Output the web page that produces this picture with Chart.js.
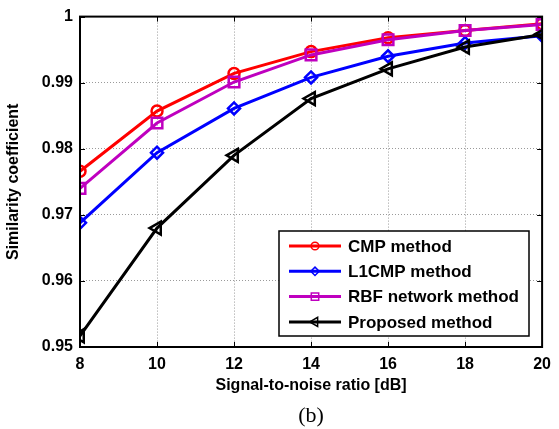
<!DOCTYPE html>
<html>
<head>
<meta charset="utf-8">
<script src="https://cdn.jsdelivr.net/npm/chart.js@4/dist/chart.umd.min.js"></script>
<style>
  html, body { margin: 0; padding: 0; background: #fff; }
  #wrap { width: 559px; height: 429px; position: relative; }
</style>
</head>
<body>
<div id="wrap"><canvas id="chart"></canvas></div>
<script>
const snr = [8, 10, 12, 14, 16, 18, 20];
const cmpValues = [0.9766, 0.9857, 0.9914, 0.9947, 0.9968, 0.9979, 0.9989];
const l1cmpValues = [0.9688, 0.9794, 0.9861, 0.9908, 0.9940, 0.9960, 0.9971];
const rbfValues = [0.9740, 0.9839, 0.9901, 0.9942, 0.9965, 0.9979, 0.9988];
const proposedValues = [0.9517, 0.9680, 0.9790, 0.9876, 0.9921, 0.9954, 0.9973];

const seriesNames = ['CMP method', 'L1CMP method', 'RBF network method', 'Proposed method'];
const xTicks = [8, 10, 12, 14, 16, 18, 20];
const yTicks = [0.95, 0.96, 0.97, 0.98, 0.99, 1];

const AREA = { left: 80, right: 545, top: 14, bottom: 347 };
const W = 559, H = 429;
const CAPTION_H = 26.4; // 22px serif * 1.2

function makeSeries(label, values, color, pointStyle, radius, rotation, order) {
  return {
    label,
    data: values.map((v, i) => ({ x: snr[i], y: v })),
    borderColor: color,
    backgroundColor: 'rgba(0,0,0,0)',
    borderWidth: 3,
    pointStyle,
    pointRadius: radius,
    pointRotation: rotation,
    pointBorderWidth: 2.5,
    pointBorderColor: color,
    pointBackgroundColor: 'rgba(0,0,0,0)',
    tension: 0,
    order
  };
}

const datasets = [
  makeSeries(seriesNames[0], cmpValues, '#ff0000', 'circle', 5.5, 0, 3),
  makeSeries(seriesNames[1], l1cmpValues, '#0000ff', 'rectRot', 6, 0, 2),
  makeSeries(seriesNames[2], rbfValues, '#bf00bf', 'rect', 7.5, 0, 1),
  makeSeries(seriesNames[3], proposedValues, '#000000', 'triangle', 7.5, -90, 0)
];

// box, inward ticks and legend, MATLAB style
const matlabFrame = {
  id: 'matlabFrame',
  afterDatasetsDraw(chart) {
    const ctx = chart.ctx;
    const a = chart.chartArea;
    const xs = chart.scales.x, ys = chart.scales.y;
    ctx.save();
    ctx.strokeStyle = '#000';
    ctx.lineWidth = 1;
    ctx.beginPath();
    xTicks.forEach((t) => {
      const px = Math.round(xs.getPixelForValue(t)) + 0.5;
      ctx.moveTo(px, a.bottom); ctx.lineTo(px, a.bottom - 5);
      ctx.moveTo(px, a.top); ctx.lineTo(px, a.top + 5);
    });
    yTicks.forEach((t) => {
      const py = Math.round(ys.getPixelForValue(t)) + 0.5;
      ctx.moveTo(a.left, py); ctx.lineTo(a.left + 5, py);
      ctx.moveTo(a.right, py); ctx.lineTo(a.right - 5, py);
    });
    ctx.stroke();
    ctx.lineWidth = 2;
    ctx.strokeRect(a.left, a.top, a.right - a.left, a.bottom - a.top);
    ctx.restore();
  },
  afterDraw(chart) {
    const ctx = chart.ctx;
    const box = { x: 279, y: 231, w: 250, h: 105 };
    ctx.save();
    ctx.fillStyle = '#fff';
    ctx.fillRect(box.x, box.y, box.w, box.h);
    ctx.strokeStyle = '#000';
    ctx.lineWidth = 1.5;
    ctx.strokeRect(box.x, box.y, box.w, box.h);
    ctx.textBaseline = 'middle';
    chart.data.datasets.forEach((ds, i) => {
      const y = box.y + 15 + i * 25.3;
      ctx.strokeStyle = ds.borderColor;
      ctx.lineWidth = 3;
      ctx.beginPath();
      ctx.moveTo(box.x + 10, y);
      ctx.lineTo(box.x + 62, y);
      ctx.stroke();
      ctx.lineWidth = 1.5;
      ctx.fillStyle = 'rgba(0,0,0,0)';
      Chart.helpers.drawPoint(ctx, {
        pointStyle: ds.pointStyle,
        rotation: ds.pointRotation,
        radius: ds.pointRadius * 0.7,
        borderWidth: 1.5
      }, box.x + 36, y);
      ctx.fillStyle = '#000';
      ctx.font = 'bold 17px "Liberation Sans", Arial, sans-serif';
      ctx.fillText(ds.label, box.x + 69, y + 1);
    });
    ctx.restore();
  }
};

const tickFont = { family: '"Liberation Sans", Arial, sans-serif', size: 16, weight: 'bold' };
const titleFont = { family: '"Liberation Sans", Arial, sans-serif', size: 16, weight: 'bold' };

new Chart(document.getElementById('chart'), {
  type: 'line',
  data: { datasets },
  options: {
    responsive: true,
    maintainAspectRatio: false,
    animation: false,
    layout: { padding: { left: 0, right: W - AREA.right, top: AREA.top, bottom: 0 } },
    plugins: {
      legend: { display: false },
      tooltip: { enabled: false },
      title: {
        display: true,
        position: 'bottom',
        fullSize: false,
        text: '(b)',
        color: '#000',
        font: { family: '"Liberation Serif", "Times New Roman", serif', size: 22, weight: 'normal' },
        padding: { top: 0, bottom: 0 }
      }
    },
    scales: {
      x: {
        type: 'linear',
        min: 8,
        max: 20,
        afterBuildTicks: (s) => { s.ticks = xTicks.map((v) => ({ value: v })); },
        afterFit: (s) => { s.height = H - AREA.bottom - CAPTION_H; },
        ticks: { color: '#000', font: tickFont, padding: 8, maxRotation: 0 },
        grid: { color: '#9a9a9a', lineWidth: 1, drawTicks: false },
        border: { display: false, dash: [1, 2] },
        title: {
          display: true,
          text: 'Signal-to-noise ratio [dB]',
          color: '#000',
          font: titleFont,
          padding: { top: 0, bottom: 7 }
        }
      },
      y: {
        min: 0.95,
        max: 1,
        afterBuildTicks: (s) => { s.ticks = yTicks.map((v) => ({ value: v })); },
        afterFit: (s) => { s.width = AREA.left; },
        ticks: {
          color: '#000',
          font: tickFont,
          padding: 7,
          callback: (v) => (Math.abs(v - 1) < 1e-9 ? '1' : v.toFixed(2))
        },
        grid: { color: '#9a9a9a', lineWidth: 1, drawTicks: false },
        border: { display: false, dash: [1, 2] },
        title: {
          display: true,
          text: 'Similarity coefficient',
          color: '#000',
          font: titleFont,
          padding: { top: 3.5, bottom: 4 }
        }
      }
    }
  },
  plugins: [matlabFrame]
});
</script>
</body>
</html>
